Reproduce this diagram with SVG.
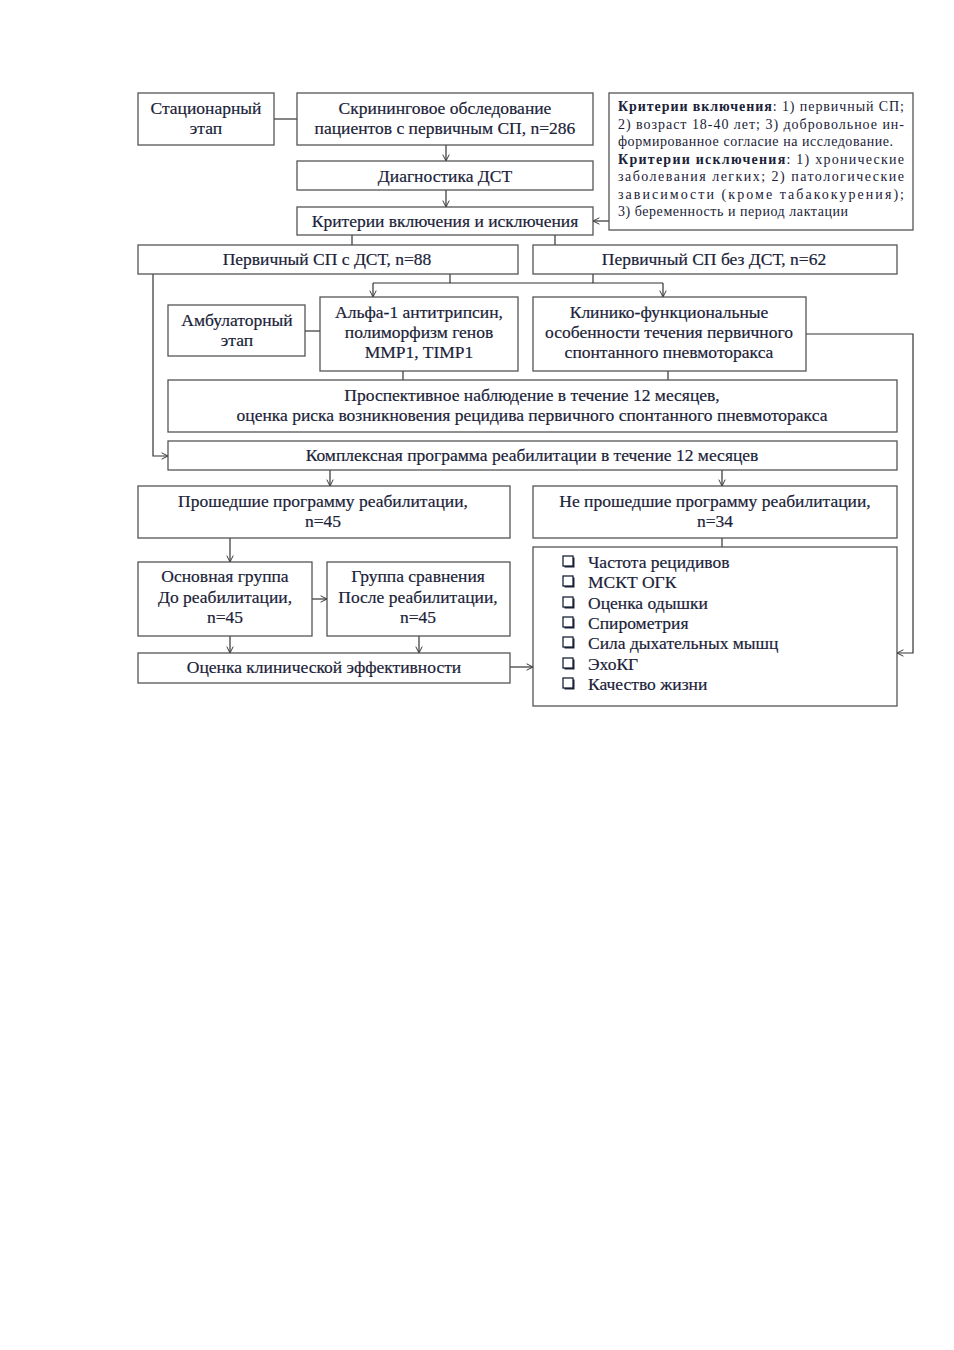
<svg xmlns="http://www.w3.org/2000/svg" width="954" height="1350" viewBox="0 0 954 1350">
<defs>
<marker id="ah" viewBox="0 0 10 10" refX="9" refY="5" markerWidth="8" markerHeight="8" orient="auto" markerUnits="userSpaceOnUse">
<path d="M1,1 L9,5 L1,9" fill="none" stroke="#333" stroke-width="1.2"/>
</marker>
<style>
.b{fill:#fff;stroke:#555;stroke-width:1.3}
.t{font-family:"Liberation Serif","Times New Roman",serif;font-size:17.5px;fill:#1a2238;stroke:#1a2238;stroke-width:0.2;text-anchor:middle}
.s{font-family:"Liberation Serif","Times New Roman",serif;font-size:14px;fill:#1a2238}
.l{font-family:"Liberation Serif","Times New Roman",serif;font-size:17.5px;fill:#1a2238;stroke:#1a2238;stroke-width:0.2}
.c{fill:none;stroke:#333;stroke-width:1.2}
.a{fill:none;stroke:#333;stroke-width:1.2;marker-end:url(#ah)}
.cb{fill:#fff;stroke:#1a2238;stroke-width:1.3}
.cs{fill:#1a2238}
</style>
</defs>
<rect width="954" height="1350" fill="#fff"/>
<g id="connectors">
<line class="c" x1="274" y1="119" x2="297" y2="119"/>
<line class="a" x1="446" y1="145" x2="446" y2="161"/>
<line class="a" x1="446" y1="190" x2="446" y2="207"/>
<line class="a" x1="609" y1="221" x2="593" y2="221"/>
<line class="c" x1="352" y1="235" x2="352" y2="245"/>
<line class="c" x1="555" y1="235" x2="555" y2="245"/>
<polyline class="c" points="450,274 450,283"/>
<polyline class="c" points="593,274 593,283"/>
<line class="c" x1="373" y1="283" x2="663" y2="283"/>
<line class="a" x1="373" y1="283" x2="373" y2="297"/>
<line class="a" x1="663" y1="283" x2="663" y2="297"/>
<line class="c" x1="305" y1="331" x2="320" y2="331"/>
<polyline class="a" points="806,334 913,334 913,653 897,653"/>
<line class="c" x1="403" y1="371" x2="403" y2="380"/>
<line class="c" x1="668" y1="371" x2="668" y2="380"/>
<polyline class="a" points="153,274 153,456 168,456"/>
<line class="a" x1="330" y1="470" x2="330" y2="486"/>
<line class="a" x1="722" y1="470" x2="722" y2="486"/>
<line class="a" x1="230" y1="538" x2="230" y2="562"/>
<line class="c" x1="722" y1="538" x2="722" y2="547"/>
<line class="a" x1="312" y1="599" x2="327" y2="599"/>
<line class="a" x1="230" y1="636" x2="230" y2="653"/>
<line class="a" x1="419" y1="636" x2="419" y2="653"/>
<line class="a" x1="510" y1="667" x2="533" y2="667"/>
</g>
<g id="n-stac"><rect class="b" x="138" y="93" width="136" height="52"/><text class="t" x="206" y="114">Стационарный</text><text class="t" x="206" y="134">этап</text></g>
<g id="n-screen"><rect class="b" x="297" y="93" width="296" height="52"/><text class="t" x="445" y="114">Скрининговое обследование</text><text class="t" x="445" y="134">пациентов с первичным СП, n=286</text></g>
<g id="n-crit-text"><rect class="b" x="609" y="93" width="304" height="137"/>
<text class="s" x="618" y="111" textLength="286" lengthAdjust="spacing"><tspan font-weight="bold">Критерии включения</tspan>: 1) первичный СП;</text>
<text class="s" x="618" y="129" textLength="286" lengthAdjust="spacing">2) возраст 18-40 лет; 3) добровольное ин-</text>
<text class="s" x="618" y="146" textLength="275" lengthAdjust="spacing">формированное согласие на исследование.</text>
<text class="s" x="618" y="164" textLength="286" lengthAdjust="spacing"><tspan font-weight="bold">Критерии исключения</tspan>: 1) хронические</text>
<text class="s" x="618" y="181" textLength="286" lengthAdjust="spacing">заболевания легких;  2) патологические</text>
<text class="s" x="618" y="199" textLength="286" lengthAdjust="spacing">зависимости   (кроме   табакокурения);</text>
<text class="s" x="618" y="216" textLength="230" lengthAdjust="spacing">3) беременность и период лактации</text>
</g>
<g id="n-diag"><rect class="b" x="297" y="161" width="296" height="29"/><text class="t" x="445" y="182">Диагностика ДСТ</text></g>
<g id="n-crit"><rect class="b" x="297" y="207" width="296" height="28"/><text class="t" x="445" y="227">Критерии включения и исключения</text></g>
<g id="n-dst"><rect class="b" x="138" y="245" width="380" height="29"/><text class="t" x="327" y="265">Первичный СП с ДСТ, n=88</text></g>
<g id="n-nodst"><rect class="b" x="533" y="245" width="364" height="29"/><text class="t" x="714" y="265">Первичный СП без ДСТ, n=62</text></g>
<g id="n-amb"><rect class="b" x="168" y="305" width="137" height="51"/><text class="t" x="237" y="326">Амбулаторный</text><text class="t" x="237" y="346">этап</text></g>
<g id="n-alfa"><rect class="b" x="320" y="297" width="198" height="74"/><text class="t" x="419" y="318">Альфа-1 антитрипсин,</text><text class="t" x="419" y="338">полиморфизм генов</text><text class="t" x="419" y="358">MMP1, TIMP1</text></g>
<g id="n-clin"><rect class="b" x="533" y="297" width="273" height="74"/><text class="t" x="669" y="318">Клинико-функциональные</text><text class="t" x="669" y="338">особенности течения первичного</text><text class="t" x="669" y="358">спонтанного пневмоторакса</text></g>
<g id="n-prosp"><rect class="b" x="168" y="380" width="729" height="52"/><text class="t" x="532" y="401">Проспективное наблюдение в течение 12 месяцев,</text><text class="t" x="532" y="421">оценка риска возникновения рецидива первичного спонтанного пневмоторакса</text></g>
<g id="n-complex"><rect class="b" x="168" y="441" width="729" height="29"/><text class="t" x="532" y="461">Комплексная программа реабилитации в течение 12 месяцев</text></g>
<g id="n-passed"><rect class="b" x="138" y="486" width="372" height="52"/><text class="t" x="323" y="507">Прошедшие программу реабилитации,</text><text class="t" x="323" y="527">n=45</text></g>
<g id="n-notpassed"><rect class="b" x="533" y="486" width="364" height="52"/><text class="t" x="715" y="507">Не прошедшие программу реабилитации,</text><text class="t" x="715" y="527">n=34</text></g>
<g id="n-main"><rect class="b" x="138" y="562" width="174" height="74"/><text class="t" x="225" y="582">Основная группа</text><text class="t" x="225" y="603">До реабилитации,</text><text class="t" x="225" y="623">n=45</text></g>
<g id="n-comp"><rect class="b" x="327" y="562" width="183" height="74"/><text class="t" x="418" y="582">Группа сравнения</text><text class="t" x="418" y="603">После реабилитации,</text><text class="t" x="418" y="623">n=45</text></g>
<g id="n-eval"><rect class="b" x="138" y="653" width="372" height="30"/><text class="t" x="324" y="673">Оценка клинической эффективности</text></g>
<g id="n-list"><rect class="b" x="533" y="547" width="364" height="159"/>
<rect class="cs" x="564.5" y="557.5" width="10" height="10"/><rect class="cb" x="563" y="556" width="10" height="10"/><text class="l" x="588" y="568">Частота рецидивов</text>
<rect class="cs" x="564.5" y="577.5" width="10" height="10"/><rect class="cb" x="563" y="576" width="10" height="10"/><text class="l" x="588" y="588">МСКТ ОГК</text>
<rect class="cs" x="564.5" y="598.5" width="10" height="10"/><rect class="cb" x="563" y="597" width="10" height="10"/><text class="l" x="588" y="609">Оценка одышки</text>
<rect class="cs" x="564.5" y="618.5" width="10" height="10"/><rect class="cb" x="563" y="617" width="10" height="10"/><text class="l" x="588" y="629">Спирометрия</text>
<rect class="cs" x="564.5" y="638.5" width="10" height="10"/><rect class="cb" x="563" y="637" width="10" height="10"/><text class="l" x="588" y="649">Сила дыхательных мышц</text>
<rect class="cs" x="564.5" y="659.5" width="10" height="10"/><rect class="cb" x="563" y="658" width="10" height="10"/><text class="l" x="588" y="670">ЭхоКГ</text>
<rect class="cs" x="564.5" y="679.5" width="10" height="10"/><rect class="cb" x="563" y="678" width="10" height="10"/><text class="l" x="588" y="690">Качество жизни</text>
</g>
</svg>
